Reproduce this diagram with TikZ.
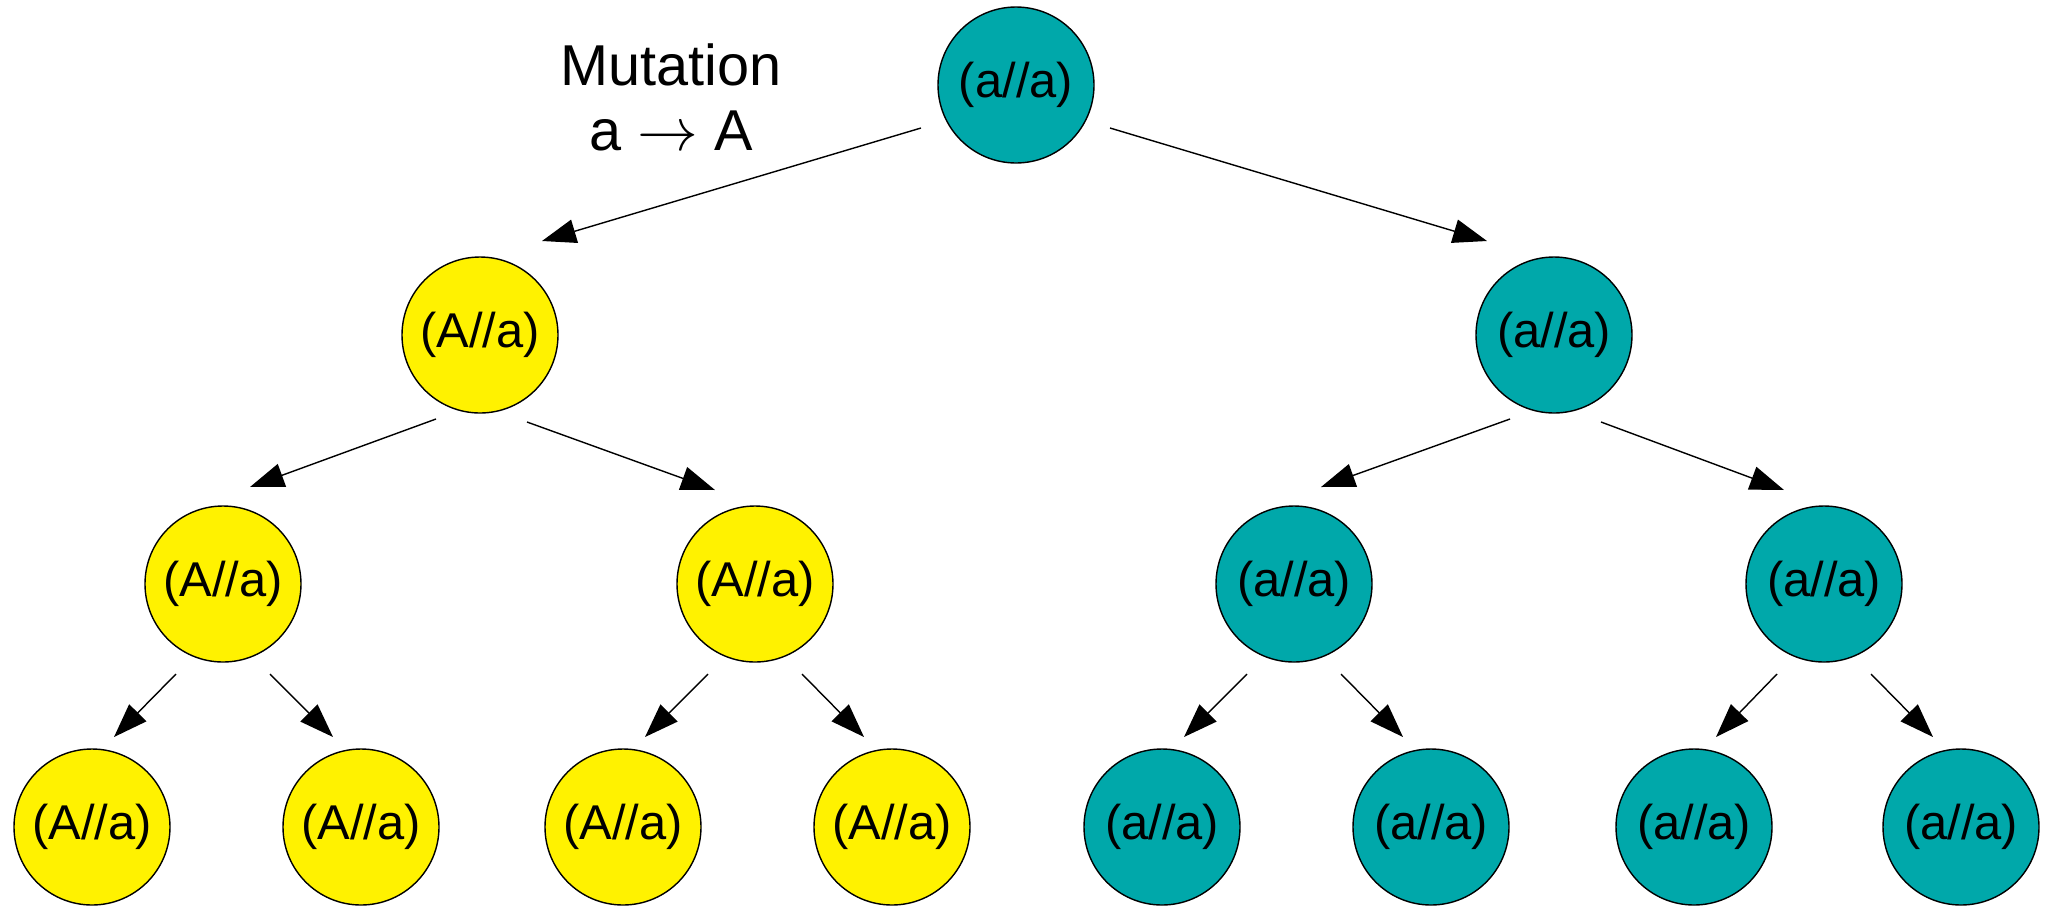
\documentclass[tikz,border=0pt]{standalone}
\usepackage{fontspec}
\setmainfont{Liberation Sans}
\usetikzlibrary{arrows.meta, calc}
\definecolor{wildteal}{RGB}{0,168,170}
\definecolor{mutyellow}{RGB}{255,242,0}

\begin{document}
\begin{tikzpicture}[
    x=0.1mm, y=-0.1mm,
    every node/.style = {font=\fontsize{13.9}{16}\selectfont},
    homo/.style   = {circle, draw, fill=wildteal, line width=0.4pt,
                     minimum size=15.6mm, inner sep=0pt},
    hetero/.style = {homo, fill=mutyellow},
    arr/.style    = {-{Triangle[length=3.4mm, width=2.4mm]}, line width=0.4pt}
  ]
  \useasboundingbox (0,0) rectangle (2047,905);

  % generation 0
  \node[homo] (root) at (1016,85) {(a//a)};
  \node[align=center, inner sep=0pt, anchor=north,
        font=\fontsize{16.4}{18.4}\selectfont] (mut) at (671,43)
        {Mutation\\a $\rightarrow$ A};

  % generation 1
  \node[hetero] (het1) at (480,335) {(A//a)};
  \node[homo]   (hom1) at (1554,335) {(a//a)};

  % generation 2
  \node[hetero] (het21) at (223,584) {(A//a)};
  \node[hetero] (het22) at (755,584) {(A//a)};
  \node[homo]   (hom21) at (1294,584) {(a//a)};
  \node[homo]   (hom22) at (1824,584) {(a//a)};

  % generation 3
  \foreach \x [count=\i] in {92,361,623,892}
    \node[hetero] (het3\i) at (\x,827) {(A//a)};
  \foreach \x [count=\i] in {1162,1431,1694,1961}
    \node[homo] (hom3\i) at (\x,827) {(a//a)};

  % arrows
  \draw[arr] ($(root)+(-95,43)$) -- ($(het1)+(62,-94)$);
  \draw[arr] ($(root)+(94,43)$)  -- ($(hom1)+(-67,-94)$);
  \foreach \up/\lc/\rc in {het1/het21/het22, hom1/hom21/hom22} {
    \draw[arr] ($(\up)+(-44,84)$) -- ($(\lc)+(27,-97)$);
    \draw[arr] ($(\up)+(47,87)$)  -- ($(\rc)+(-40,-94)$);
  }
  \foreach \up/\lc/\rc in {het21/het31/het32, het22/het33/het34,
                           hom21/hom31/hom32, hom22/hom33/hom34} {
    \draw[arr] ($(\up)+(-47,90)$) -- ($(\lc)+(22,-90)$);
    \draw[arr] ($(\up)+(47,90)$)  -- ($(\rc)+(-28,-90)$);
  }

\end{tikzpicture}
\end{document}
